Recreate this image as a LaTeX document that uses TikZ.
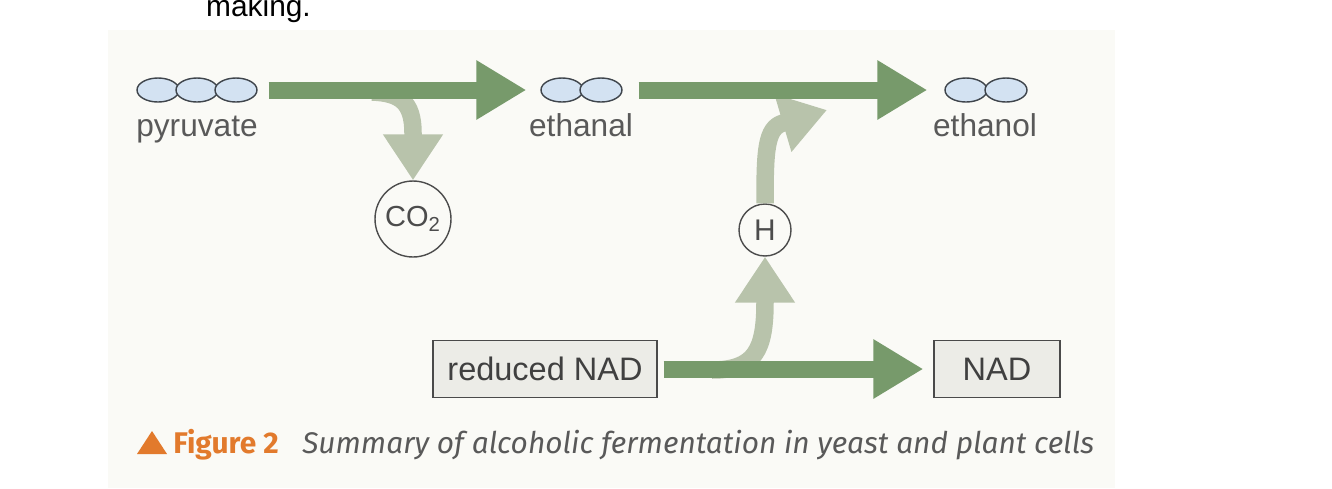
\documentclass[tikz,border=0pt]{standalone}
\usepackage{fontspec}
\setmainfont{Liberation Sans}
\newfontfamily\capfont{Fira Sans}
\usetikzlibrary{arrows.meta, shapes.geometric}
\definecolor{flowgreen}{HTML}{779A6B}
\definecolor{sidegreen}{HTML}{B8C3AB}
\definecolor{atomfill}{HTML}{D3E2F2}
\definecolor{atomline}{HTML}{3F454C}
\definecolor{boxfill}{HTML}{ECECE7}
\definecolor{boxline}{HTML}{4A4A4A}
\definecolor{labelgrey}{HTML}{595959}
\definecolor{figorange}{HTML}{E27A2C}
\definecolor{panelbg}{HTML}{FAFAF6}

\begin{document}
\begin{tikzpicture}[x=0.02cm, y=-0.02cm,
  atom/.style={ellipse, draw=atomline, fill=atomfill, line width=0.8pt,
               minimum width=0.84cm, minimum height=0.48cm, inner sep=0pt},
  molname/.style={anchor=base, text=labelgrey, font=\fontsize{18}{20}\selectfont},
  carrier/.style={draw=boxline, fill=boxfill, line width=0.8pt, minimum height=1.14cm,
                  inner sep=0pt, text=black!75, font=\fontsize{18.5}{20}\selectfont},
  ion/.style={circle, draw=black!70, line width=0.8pt, inner sep=0pt, text=black!70},
  mainflow/.style={line width=0.34cm, draw=flowgreen, -{Triangle[length=1cm, width=1.12cm]}},
  sideflow/.style={line width=0.35cm, draw=sidegreen, line join=round,
                   -{Triangle[length=0.92cm, width=1.14cm]}},
]

\useasboundingbox[fill=white] (0,0) rectangle (1332,488);
\fill[panelbg] (108,30) rectangle (1115,488);

\node[anchor=base west, font=\fontsize{17}{19}\selectfont] (prev) at (200,16) {making.};

% molecules
\node[atom] (p1) at (158,90) {};
\node[atom] (p2) at (197,90) {};
\node[atom] (p3) at (236,90) {};
\node[atom] (e1) at (562,90) {};
\node[atom] (e2) at (601,90) {};
\node[atom] (o1) at (966,90) {};
\node[atom] (o2) at (1006,90) {};

\node[molname] (pyr) at (197,136) {pyruvate};
\node[molname] (eth) at (581,136) {ethanal};
\node[molname] (etol) at (985,136) {ethanol};

\node[ion, minimum size=1.52cm, font=\fontsize{16.5}{18}\selectfont] (co2) at (413,219) {CO\textsubscript{2}};
\node[ion, minimum size=1.04cm, font=\fontsize{17}{19}\selectfont] (hion) at (765,230) {H};

\node[carrier, minimum width=4.48cm] (rnad) at (545,369) {reduced NAD};
\node[carrier, minimum width=2.52cm] (nad) at (997,369) {NAD};

\coordinate (co2src) at (372,92);
\coordinate (hsrc) at (712,370);
\coordinate (htip) at (827,110);

% side branches sit under the main flow
\draw[sideflow] (co2src) .. controls (400,93) and (413,102) .. (413,133) -- (co2.north);
\draw[sideflow] (hsrc) .. controls (755,370) and (765,350) .. (765,302) -- (hion.south);
\draw[sideflow] (hion.north) .. controls (765,150) and (766,128) .. (783,123) -- (htip);

% main flow
\draw[mainflow, shorten <=0.22cm, shorten >=0.28cm] (p3.east) -- (e1.west);
\draw[mainflow, shorten <=0.32cm, shorten >=0.34cm] (e2.east) -- (o1.west);
\draw[mainflow, shorten <=0.12cm, shorten >=0.2cm] (rnad.east) -- (nad.west);

% caption
\fill[figorange] (137,454) -- (152,431) -- (167,454) -- cycle;
\node[anchor=base west, inner sep=0pt, text=figorange, font=\capfont\bfseries\fontsize{17}{19}\selectfont] (fig) at (173,453) {Figure 2};
\node[anchor=base west, inner sep=0pt, text=labelgrey, font=\capfont\itshape\fontsize{17}{19}\selectfont] (cap) at (302,453) {Summary of alcoholic fermentation in yeast and plant cells};

\end{tikzpicture}
\end{document}
